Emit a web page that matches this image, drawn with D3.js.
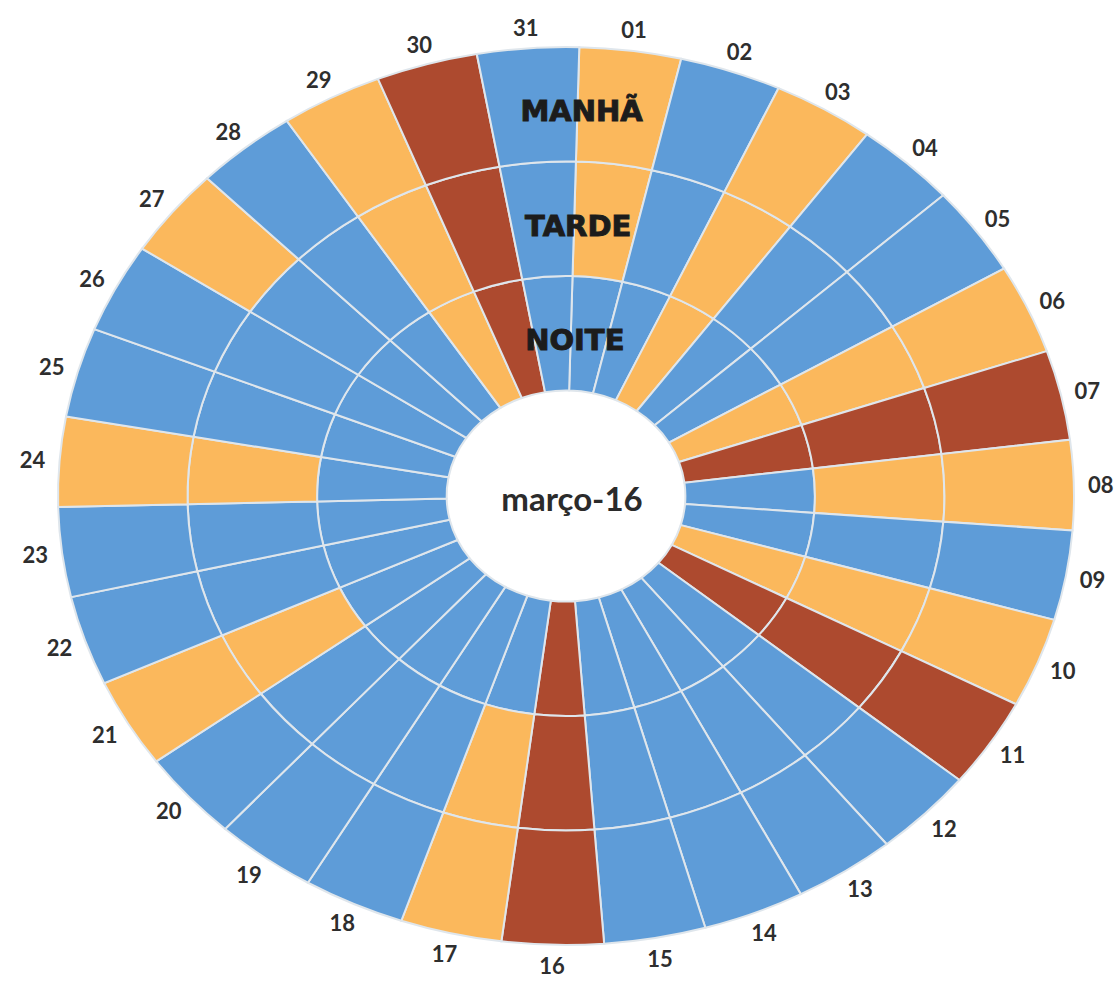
<!DOCTYPE html>
<html>
<head>
<meta charset="utf-8">
<script src="https://cdn.jsdelivr.net/npm/d3@7"></script>
<style>
  html, body { margin: 0; padding: 0; background: #ffffff; }
  svg { display: block; }
</style>
</head>
<body>
<svg id="chart" width="1117" height="985"></svg>
<script>
// ---- data ----
const days = ["01","02","03","04","05","06","07","08","09","10","11","12","13","14","15","16",
              "17","18","19","20","21","22","23","24","25","26","27","28","29","30","31"];
const rings = ["NOITE", "TARDE", "MANHÃ"];           // inner -> outer
const levels = ["normal", "alerta", "crítico"];       // 0 blue, 1 orange, 2 red
const manha = [1,0,1,0,0,1,2,1,0,1,2,0,0,0,0,2,1,0,0,0,1,0,0,1,0,0,1,0,1,2,0];
const tarde = [1,0,1,0,0,1,2,1,0,1,2,0,0,0,0,2,1,0,0,0,1,0,0,1,0,0,0,0,1,2,0];
const noite = [0,0,1,0,0,1,2,0,0,1,2,0,0,0,0,2,0,0,0,0,0,0,0,0,0,0,0,0,1,2,0];
const centerLabel = "março-16";

// ---- layout ----
const W = 1117, H = 985;
const cx = 566, cy = 496, rx = 508, ry = 449;
const R = rx, r0 = 0.235 * R;
const rot = 1.5 * Math.PI / 180;

const svg = d3.select("#chart");
svg.append("rect").attr("width", W).attr("height", H).attr("fill", "#ffffff");

const angle = d3.scaleBand().domain(days).range([rot, rot + 2 * Math.PI]).paddingInner(0).paddingOuter(0);
const radial = d3.scaleBand().domain(rings).range([r0, R]).padding(0);
const color = d3.scaleOrdinal().domain([0, 1, 2]).range(["#5e9cd8", "#fbb85c", "#ad4a2f"]);

const series = { "MANHÃ": manha, "TARDE": tarde, "NOITE": noite };
const cells = [];
days.forEach((d, i) => rings.forEach(r => cells.push({ day: d, ring: r, level: series[r][i] })));

const g = svg.append("g").attr("transform", `translate(${cx},${cy}) scale(1,${ry / rx})`);

const arc = d3.arc()
  .innerRadius(d => radial(d.ring))
  .outerRadius(d => radial(d.ring) + radial.bandwidth())
  .startAngle(d => angle(d.day))
  .endAngle(d => angle(d.day) + angle.bandwidth());

g.selectAll("path.cell")
  .data(cells)
  .join("path")
  .attr("class", "cell")
  .attr("d", arc)
  .attr("fill", d => color(d.level))
  .attr("stroke", "#dfe6ec")
  .attr("stroke-width", 2)
  .attr("vector-effect", "non-scaling-stroke");

// day labels
svg.append("g").selectAll("text.day")
  .data(days)
  .join("text")
  .attr("class", "day")
  .attr("x", d => cx + (rx + 27) * Math.sin(angle(d) + angle.bandwidth() / 2))
  .attr("y", d => cy - (ry + 21) * Math.cos(angle(d) + angle.bandwidth() / 2))
  .attr("text-anchor", "middle")
  .attr("dominant-baseline", "central")
  .attr("font-family", "Lato, 'Open Sans', sans-serif")
  .attr("font-weight", 700)
  .attr("font-size", 22)
  .attr("fill", "#2e2e2e")
  .text(d => d);

// ring labels along the 31/01 boundary
svg.append("g").selectAll("text.ring")
  .data(rings)
  .join("text")
  .attr("class", "ring")
  .attr("x", d => cx + 4 + (radial(d) + radial.bandwidth() / 2) * Math.sin(rot))
  .attr("y", d => cy + 7 - (radial(d) + radial.bandwidth() / 2) * (ry / rx) * Math.cos(rot))
  .attr("text-anchor", "middle")
  .attr("dominant-baseline", "central")
  .attr("font-family", "'DejaVu Sans', sans-serif")
  .attr("font-weight", 700)
  .attr("font-size", 29)
  .attr("fill", "#1c1c1c")
  .attr("stroke", "#1c1c1c")
  .attr("stroke-width", 1)
  .text(d => d);

// center label
svg.append("text")
  .attr("x", cx + 6)
  .attr("y", cy + 2)
  .attr("text-anchor", "middle")
  .attr("dominant-baseline", "central")
  .attr("font-family", "Lato, 'Open Sans', sans-serif")
  .attr("font-weight", 700)
  .attr("font-size", 33)
  .attr("fill", "#2b2b2b")
  .text(centerLabel);
</script>
</body>
</html>
